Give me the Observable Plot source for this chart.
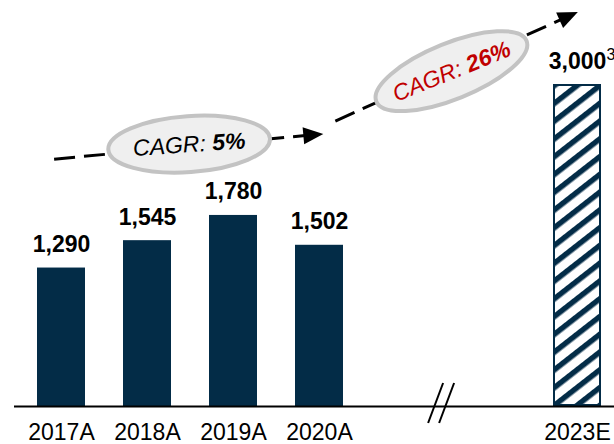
<!DOCTYPE html>
<html>
<head>
<meta charset="utf-8">
<script src="https://cdn.jsdelivr.net/npm/d3@7"></script>
<script src="https://cdn.jsdelivr.net/npm/@observablehq/plot@0.6"></script>
<style>
  html, body { margin: 0; padding: 0; background: #ffffff; }
  svg { display: block; }
</style>
</head>
<body>
<div id="chart"></div>
<script>
// ---- data ----
const categories = ["2017A", "2018A", "2019A", "2020A", "2023E"];
const values = [1290, 1545, 1780, 1502, 3000];
const kinds = ["actual", "actual", "actual", "actual", "estimate"];
const valueLabels = ["1,290", "1,545", "1,780", "1,502", "3,000"];
const slots = ["2017A", "2018A", "2019A", "2020A", "gapA", "gapB", "2023E"]; // x positions incl. axis break
const footnoteMark = "3";
const cagrPrefix = "CAGR: ";
const cagrValues = ["5%", "26%"];

// ---- styling ----
const NAVY = "#032c47";
const FONT = "'Liberation Sans', Arial, Helvetica, sans-serif";

const rows = categories.map((c, i) => ({cat: c, value: values[i], kind: kinds[i], label: valueLabels[i]}));
const actual = rows.filter(d => d.kind === "actual");
const estimate = rows.filter(d => d.kind === "estimate");

// annotation layout, expressed in data units (slot index, value)
const arrowLayout = [
  {from: [-0.08, 2300], to: [3.05, 2535]},
  {from: [3.19, 2655], to: [6.01, 3670]}
];
const ellipseLayout = [
  {at: [1.49, 2440], angle: -4, color: "#000000"},
  {at: [4.54, 3120], angle: -22, color: "#c00000"}
];
const breakAt = 4.42;

function annotations(index, scales) {
  const x = scales.x, y = scales.y;
  const step = x(slots[1]) - x(slots[0]);
  const bw = typeof x.bandwidth === "function" ? x.bandwidth() : (x.bandwidth ?? step * 0.555);
  const px = s => x(slots[0]) + bw / 2 + s * step;
  const g = d3.create("svg:g");

  // axis break marker
  const bx = px(breakAt), by = y(0);
  for (const off of [-5.5, 5.5]) {
    g.append("line")
      .attr("x1", bx + off + 7.5).attr("y1", by - 23)
      .attr("x2", bx + off - 7.5).attr("y2", by + 17)
      .attr("stroke", "#000").attr("stroke-width", 2);
  }

  // dashed arrows
  arrowLayout.forEach(a => {
    const x0 = px(a.from[0]), y0 = y(a.from[1]);
    const x1 = px(a.to[0]), y1 = y(a.to[1]);
    const L = Math.hypot(x1 - x0, y1 - y0);
    const ux = (x1 - x0) / L, uy = (y1 - y0) / L;
    const head = 20, half = 8.5;
    g.append("line")
      .attr("x1", x0).attr("y1", y0)
      .attr("x2", x1 - ux * (head - 2)).attr("y2", y1 - uy * (head - 2))
      .attr("stroke", "#000").attr("stroke-width", 3)
      .attr("stroke-dasharray", "21 9");
    const bxh = x1 - ux * head, byh = y1 - uy * head;
    g.append("polygon")
      .attr("points", [
        [x1, y1],
        [bxh - uy * half, byh + ux * half],
        [bxh + uy * half, byh - ux * half]
      ].map(p => p.join(",")).join(" "))
      .attr("fill", "#000");
  });

  // CAGR ellipses
  ellipseLayout.forEach((e, i) => {
    const cx = px(e.at[0]), cy = y(e.at[1]);
    const eg = g.append("g").attr("transform", `translate(${cx},${cy}) rotate(${e.angle})`);
    eg.append("ellipse")
      .attr("rx", 81).attr("ry", 28)
      .attr("fill", "#efefef").attr("stroke", "#c3c3c3").attr("stroke-width", 4);
    const t = eg.append("text")
      .attr("text-anchor", "middle").attr("dy", "0.35em")
      .attr("font-family", FONT).attr("font-size", 23)
      .attr("font-style", "italic").attr("fill", e.color);
    t.append("tspan").text(cagrPrefix);
    t.append("tspan").attr("font-weight", "bold").text(cagrValues[i]);
  });
  return g.node();
}

const chart = Plot.plot({
  width: 614,
  height: 444,
  marginLeft: 14,
  marginRight: 0,
  marginTop: 84,
  marginBottom: 38,
  style: {fontFamily: FONT, color: "#000", background: "#fff", overflow: "visible"},
  x: {type: "band", domain: slots, range: [14, 623], paddingInner: 0.445, paddingOuter: 0.243},
  y: {domain: [0, 3000], axis: null},
  marks: [
    Plot.barY(actual, {x: "cat", y: "value", fill: NAVY}),
    Plot.barY(estimate, {x: "cat", y: "value", fill: "url(#hatch)", stroke: NAVY, strokeWidth: 2, inset: 1}),
    Plot.ruleY([0], {stroke: "#000", strokeWidth: 2}),
    Plot.axisX({ticks: categories, tickSize: 0, tickPadding: 17, fontSize: 23, label: null}),
    Plot.text(rows, {x: "cat", y: "value", text: "label", dy: -16, lineAnchor: "bottom",
      fontSize: 23, fontWeight: "bold", fill: "#000"}),
    Plot.text(estimate, {x: "cat", y: "value", text: () => footnoteMark, dx: 29, dy: -25,
      lineAnchor: "bottom", textAnchor: "start", fontSize: 16, fill: "#000"}),
    annotations
  ]
});

// hatch pattern definition for the estimate bar
const defs = d3.select(chart).insert("defs", ":first-child");
const pat = defs.append("pattern")
  .attr("id", "hatch")
  .attr("patternUnits", "userSpaceOnUse")
  .attr("width", 14).attr("height", 14)
  .attr("patternTransform", "rotate(52)");
pat.append("rect").attr("width", 14).attr("height", 14).attr("fill", "#ffffff");
pat.append("rect").attr("width", 5.5).attr("height", 14).attr("fill", NAVY);

document.getElementById("chart").appendChild(chart);
</script>
</body>
</html>
